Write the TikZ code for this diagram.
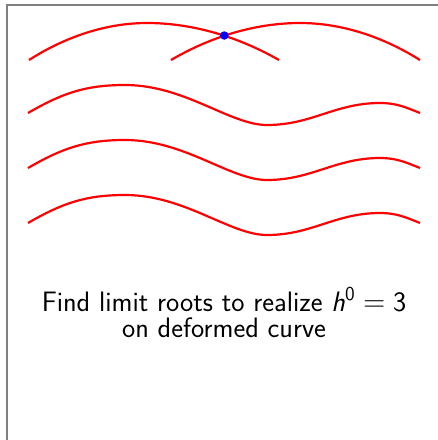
\documentclass[tikz,border=0pt]{standalone}
\usepackage{amsmath}
\usepackage{tikz}
\usetikzlibrary{positioning}
\usepackage{xcolor}

\tikzset{
  curve/.style={draw=red, line width=1.25pt},
  crossdot/.style={circle, fill=blue, inner sep=0pt, minimum size=0.17cm},
  frameline/.style={draw=gray, line width=0.8pt}
}

\begin{document}
\begin{tikzpicture}[x=0.02cm,y=-0.02cm]
\useasboundingbox (0,0) rectangle (437,440);
% frame
\draw[frameline] (7,441) |- (438,5);
% nodal curve: two branches meeting at a node
\draw[curve] (29,60) parabola bend (147,23) (279,60);
\draw[curve] (171,60) parabola bend (300,23) (420,60);
\node[crossdot] (nodept) at (224.3,35.5) {};
% deformed curves
\foreach \dy in {0,55,110}{
\draw[curve] (28,113+\dy) to[out=30,in=180] (125,85+\dy)
  .. controls (185,85+\dy) and (230,125+\dy) .. (267,125+\dy)
  to[out=0,in=180] (380,103+\dy)
  to[out=0,in=158] (420,113+\dy);
}
\node[anchor=base, align=center, font=\sffamily\fontsize{16}{14.8}\selectfont] (caption) at (224,337.7)
  {Find limit roots to realize \textit{h}\textsuperscript{0}\;$=$\;3\\on deformed curve};
\end{tikzpicture}
\end{document}
